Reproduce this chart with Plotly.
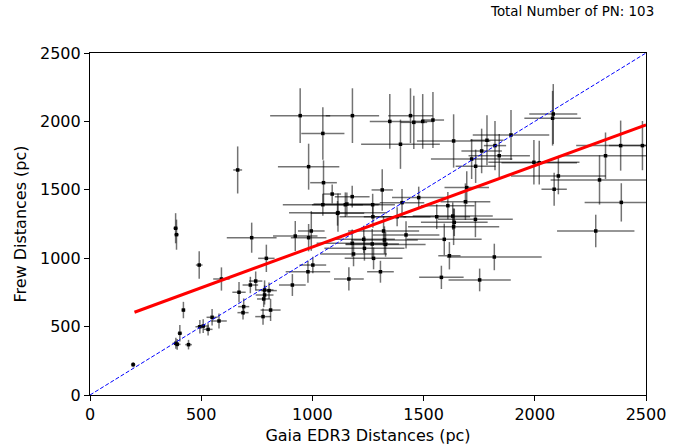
import plotly.graph_objects as go

# Gaia EDR3 distances (pc)
gaia = [194, 385, 389, 491, 591, 727, 793, 420, 670, 721, 745, 691, 688, 785, 805, 785, 781, 812, 778,
        494, 509, 531, 549, 580, 404, 386, 392, 443, 664,
        1047, 1148, 1155, 1115, 1271, 1272, 1381, 1403, 923, 995, 983, 1002, 980, 910, 1164, 1306,
        1179, 1231, 1234, 1269, 1185, 1275, 1320, 1324, 1329, 1421,
        945, 1180, 1047, 983, 1050, 1089, 1179, 1113, 1348, 1441, 1456, 1496, 1542, 1396, 1314, 1478,
        1559, 1609, 1635, 1785, 1761, 1821, 1893, 1716, 1840, 1734, 2083, 2080, 1996, 2020, 2106, 2087,
        2291, 2318, 2386, 2389, 2484, 1694, 1688, 1733, 1631, 1638, 1635, 1593, 1616, 1818, 1580, 1752, 2274]
gaia_err = [10, 10, 10, 15, 37, 112, 37, 8, 30, 35, 30, 25, 25, 40, 35, 40, 30, 45, 35,
            20, 25, 20, 25, 35, 10, 15, 15, 15, 20,
            180, 150, 150, 220, 100, 150, 150, 100, 100, 60, 80, 60, 100, 60, 67, 60,
            160, 140, 180, 120, 150, 130, 160, 150, 180, 150,
            135, 120, 97, 138, 60, 40, 78, 120, 90, 100, 60, 50, 50, 177, 48, 120,
            150, 120, 165, 75, 91, 50, 172, 183, 138, 90, 108, 127, 205, 170, 213, 57,
            220, 210, 200, 165, 150, 100, 112, 168, 180, 150, 205, 168, 50, 213, 100, 140, 174]
# Frew distances (pc)
frew = [222, 1219, 1172, 950, 848, 1150, 999, 621, 751, 804, 833, 646, 602, 768, 763, 731, 702, 621, 573,
        499, 504, 480, 568, 541, 451, 378, 370, 368, 1645,
        1391, 1391, 1396, 1333, 1391, 1303, 1303, 1406, 1162, 1199, 1150, 950, 901, 804, 848, 901,
        1109, 1138, 1072, 1104, 1031, 999, 1199, 1133, 1101, 1170,
        2042, 2042, 1912, 1669, 1552, 1469, 1450, 1328, 2000, 2042, 1993, 2000, 2010, 1833, 1499, 1443,
        1303, 1384, 1857, 1862, 1784, 1823, 1901, 1725, 1749, 1672, 2054, 2023, 1701, 1698, 1601, 1504,
        1572, 1749, 1823, 1408, 1823, 1516, 1413, 1284, 1308, 1262, 1230, 1138, 1018, 1009, 860, 841, 1199]
frew_err = [20, 110, 110, 100, 85, 110, 100, 60, 75, 60, 70, 60, 50, 70, 60, 70, 60, 80, 60,
            50, 50, 45, 60, 55, 60, 40, 40, 35, 172,
            80, 90, 85, 140, 80, 80, 70, 100, 110, 145, 100, 60, 80, 80, 85, 80,
            100, 100, 90, 110, 90, 80, 110, 100, 90, 100,
            200, 200, 192, 168, 163, 70, 80, 90, 200, 200, 195, 200, 205, 180, 152, 80,
            90, 100, 195, 183, 163, 180, 183, 146, 158, 122, 219, 200, 163, 160, 134, 120,
            180, 170, 183, 140, 180, 120, 134, 130, 100, 100, 134, 115, 100, 97, 85, 83, 119]

fit_slope = 0.5957
fit_intercept = 486
fit_x = [200, 2500]
one_to_one = [0, 2500]
tick_vals = [0, 500, 1000, 1500, 2000, 2500]
n_pn = 103

fig = go.Figure()
fig.add_trace(go.Scatter(
    x=gaia, y=frew, mode="markers",
    marker=dict(color="black", size=3.5, symbol="square"),
    error_x=dict(type="data", array=gaia_err, color="rgba(0,0,0,0.55)", thickness=1.5, width=0),
    error_y=dict(type="data", array=frew_err, color="rgba(0,0,0,0.55)", thickness=1.5, width=0),
    showlegend=False))
fig.add_trace(go.Scatter(x=one_to_one, y=one_to_one, mode="lines",
                         line=dict(color="blue", width=1, dash="4px,2px"), showlegend=False))
fig.add_trace(go.Scatter(x=fit_x, y=[fit_slope * v + fit_intercept for v in fit_x], mode="lines",
                         line=dict(color="red", width=3), showlegend=False))

axis_common = dict(range=[0, 2500], tickvals=tick_vals, ticks="outside", ticklen=5, tickwidth=1,
                   tickcolor="black", showline=True, linecolor="black", linewidth=1.2, mirror=True,
                   showgrid=False, zeroline=False, automargin=False,
                   tickfont=dict(family="DejaVu Sans", size=16, color="black"),
                   title_font=dict(family="DejaVu Sans", size=16, color="black"))
fig.update_xaxes(title_text="Gaia EDR3 Distances (pc)", title_standoff=6, **axis_common)
fig.update_yaxes(title_text="Frew Distances (pc)", title_standoff=9, **axis_common)

fig.add_annotation(text=f"Total Number of PN: {n_pn}", xref="paper", yref="paper",
                   x=(656 - 90) / 556, y=(395 - 12) / 342, xanchor="right", yanchor="middle", showarrow=False,
                   font=dict(family="DejaVu Sans", size=13.4, color="black"))

fig.update_layout(width=692, height=447, margin=dict(l=90, r=46, t=53, b=52),
                  plot_bgcolor="white", paper_bgcolor="white")
fig.write_html("out.html")
